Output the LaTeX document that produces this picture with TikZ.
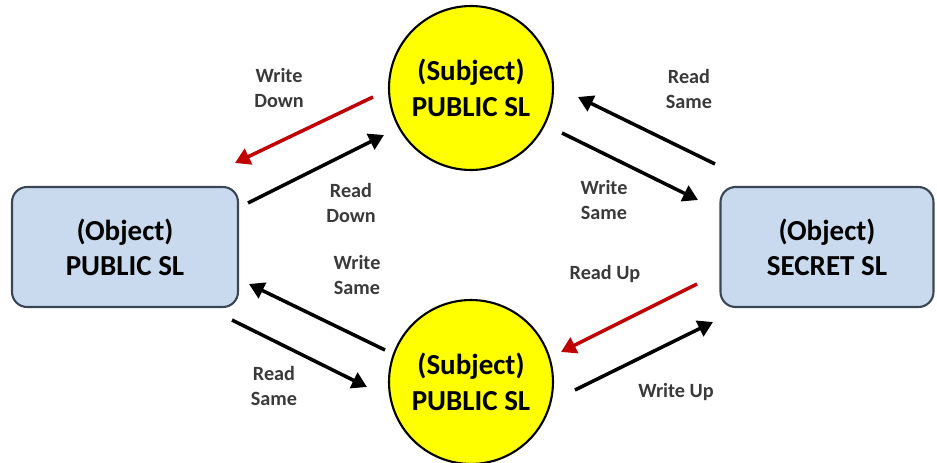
\documentclass[tikz,border=0pt]{standalone}
\usepackage{fontspec}
\setmainfont{Carlito}
\usetikzlibrary{arrows.meta}
\definecolor{objfill}{HTML}{C9D9EE}
\definecolor{objline}{HTML}{3A4654}
\definecolor{subjfill}{HTML}{FFFF00}
\definecolor{downred}{HTML}{C00000}
\definecolor{lblgray}{HTML}{3A3A3A}
\begin{document}
\begin{tikzpicture}[x=0.02cm, y=-0.02cm,
    object/.style={draw=objline, line width=1.2pt, fill=objfill, rounded corners=0.3cm,
      minimum width=4.52cm, minimum height=2.4cm, align=center,
      font=\fontsize{16.5}{20}\selectfont\bfseries},
    subject/.style={circle, draw=black, line width=1.2pt, fill=subjfill, inner sep=0pt,
      minimum size=3.28cm, align=center, font=\fontsize{16.5}{20.5}\selectfont\bfseries},
    flow/.style={line width=2pt, -{Triangle[width=0.34cm,length=0.3cm]}},
    lab/.style={text=lblgray, align=center, font=\fontsize{11.5}{14.2}\selectfont\bfseries}]
   \useasboundingbox (0,0) rectangle (937,463);
   % security levels
   \node[object] (objpub) at (125,247) {(Object)\\PUBLIC SL};
   \node[object, minimum width=4.26cm] (objsec) at (827,247) {(Object)\\SECRET SL};
   \node[subject] (subtop) at (471,88) {(Subject)\\PUBLIC SL};
   \node[subject] (subbot) at (471,382) {(Subject)\\PUBLIC SL};
   % arrow ends
   \coordinate (wd-a) at (373,97);  \coordinate (wd-b) at (235,163);
   \coordinate (rd-a) at (248,203); \coordinate (rd-b) at (384,135);
   \coordinate (rs1-a) at (715,164); \coordinate (rs1-b) at (578,97);
   \coordinate (ws1-a) at (562,133); \coordinate (ws1-b) at (698,200);
   \coordinate (ws2-a) at (385,350); \coordinate (ws2-b) at (249,284);
   \coordinate (rs2-a) at (232,320); \coordinate (rs2-b) at (367,387);
   \coordinate (ru-a) at (697,284); \coordinate (ru-b) at (561,352);
   \coordinate (wu-a) at (575,390); \coordinate (wu-b) at (713,322);
   \draw[flow, downred] (wd-a) -- (wd-b);
   \draw[flow] (rd-a) -- (rd-b);
   \draw[flow] (rs1-a) -- (rs1-b);
   \draw[flow] (ws1-a) -- (ws1-b);
   \draw[flow] (ws2-a) -- (ws2-b);
   \draw[flow] (rs2-a) -- (rs2-b);
   \draw[flow, downred] (ru-a) -- (ru-b);
   \draw[flow] (wu-a) -- (wu-b);
   % labels
   \node[lab] (l-wd) at (279,88) {Write\\Down};
   \node[lab] (l-rd) at (351,203) {Read\\Down};
   \node[lab] (l-rs1) at (689,89) {Read\\Same};
   \node[lab] (l-ws1) at (604,200) {Write\\Same};
   \node[lab] (l-ws2) at (357,275) {Write\\Same};
   \node[lab] (l-rs2) at (274,386) {Read\\Same};
   \node[lab] (l-ru) at (605,274) {Read Up};
   \node[lab] (l-wu) at (676,392) {Write Up};
\end{tikzpicture}
\end{document}
